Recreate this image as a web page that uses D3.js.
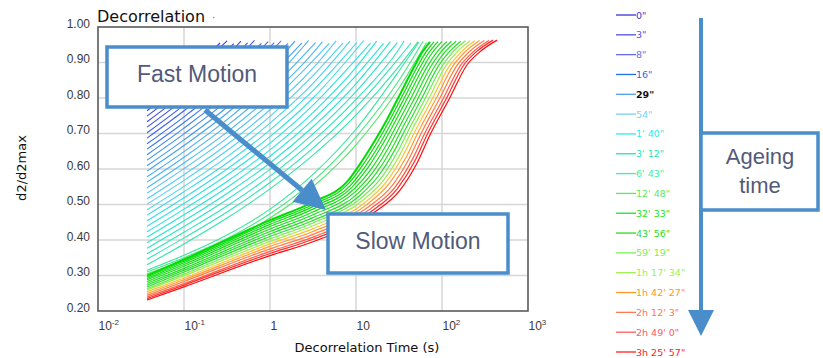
<!DOCTYPE html>
<html>
<head>
<meta charset="utf-8">
<script src="https://cdn.jsdelivr.net/npm/d3@7"></script>
<style>
  body { margin: 0; background: #fff; }
</style>
</head>
<body>
<div class="chart"></div>
<script>
// Each point is [log10(decorrelation time in s), d2/d2max]

// early ageing: curves spread out over the whole frame
const spreadCurves = [
    [[-1.43, .780], [-1, .864], [-0.58, .955]],
    [[-1.43, .764], [-1, .847], [-0.50, .961]],
    [[-1.43, .749], [-1, .830], [-0.42, .953]],
    [[-1.43, .733], [-1, .813], [-0.5, .919], [-0.34, .960]],
    [[-1.43, .718], [-1, .797], [-0.5, .900], [-0.26, .955]],
    [[-1.43, .702], [-1, .780], [-0.5, .882], [-0.18, .962]],
    [[-1.43, .687], [-1, .764], [-0.5, .863], [-0.10, .954]],
    [[-1.43, .671], [-1, .747], [-0.5, .845], [-0.02, .959]],
    [[-1.43, .656], [-1, .731], [-0.5, .828], [0.05, .956]],
    [[-1.43, .640], [-1, .715], [-0.5, .810], [0.13, .961]],
    [[-1.43, .625], [-1, .699], [-0.5, .792], [0, .902], [0.21, .954]],
    [[-1.43, .609], [-1, .682], [-0.5, .774], [0, .882], [0.29, .960]],
    [[-1.43, .594], [-1, .666], [-0.5, .757], [0, .863], [0.37, .955]],
    [[-1.43, .578], [-1, .649], [-0.5, .739], [0, .843], [0.45, .962]],
    [[-1.43, .563], [-1, .633], [-0.5, .722], [0, .824], [0.53, .956]],
    [[-1.43, .547], [-1, .617], [-0.5, .704], [0, .805], [0.5, .927], [0.61, .959]],
    [[-1.43, .532], [-1, .601], [-0.5, .687], [0, .786], [0.5, .905], [0.69, .954]],
    [[-1.43, .516], [-1, .584], [-0.5, .669], [0, .767], [0.5, .884], [0.77, .961]],
    [[-1.43, .501], [-1, .568], [-0.5, .652], [0, .748], [0.5, .863], [0.85, .955]],
    [[-1.43, .485], [-1, .551], [-0.5, .634], [0, .729], [0.5, .841], [0.93, .960]],
    [[-1.43, .470], [-1, .536], [-0.5, .617], [0, .710], [0.5, .821], [1.01, .956]],
    [[-1.43, .454], [-1, .519], [-0.5, .600], [0, .691], [0.5, .800], [1.09, .962]],
    [[-1.43, .439], [-1, .503], [-0.5, .583], [0, .673], [0.5, .780], [1, .909], [1.17, .955]],
    [[-1.43, .423], [-1, .487], [-0.5, .565], [0, .654], [0.5, .759], [1, .886], [1.24, .960]],
    [[-1.43, .408], [-1, .471], [-0.5, .548], [0, .636], [0.5, .739], [1, .863], [1.32, .954]],
    [[-1.43, .392], [-1, .454], [-0.5, .531], [0, .617], [0.5, .719], [1, .840], [1.40, .959]],
    [[-1.43, .377], [-1, .438], [-0.5, .514], [0, .599], [0.5, .699], [1, .818], [1.48, .956]],
    [[-1.43, .361], [-1, .422], [-0.5, .496], [0, .580], [0.5, .679], [1, .796], [1.5, .938], [1.56, .961]],
    [[-1.43, .346], [-1, .406], [-0.5, .479], [0, .562], [0.5, .659], [1, .774], [1.5, .913], [1.64, .955]],
    [[-1.43, .330], [-1, .389], [-0.5, .462], [0, .544], [0.5, .639], [1, .752], [1.5, .889], [1.72, .958]]
];

// the few sea-green curves that bend up just before the bundle
const transitionCurves = [
    [[-1.43, .315], [-1, .357], [-0.5, .414], [0, .487], [0.5, .585], [1, .712], [1.5, .876], [1.73, .957]],
    [[-1.43, .310], [-1, .350], [-0.5, .404], [0, .474], [0.5, .566], [1, .690], [1.5, .850], [1.78, .960]],
    [[-1.43, .305], [-1, .343], [-0.5, .395], [0, .462], [0.5, .550], [1, .668], [1.5, .828], [1.82, .956]]
];

// late ageing: curves packed in the green -> red bundle
const bundleCurves = [
    [[-1.43, .300], [-1, .345], [0, .456], [0.5, .507], [0.900, .565], [1.050, .615], [1.220, .680], [1.340, .730], [1.490, .800], [1.670, .885], [1.760, .925], [1.860, .958]],
    [[-1.43, .296], [-1, .340], [0, .450], [0.5, .500], [0.918, .560], [1.078, .611], [1.249, .676], [1.371, .728], [1.526, .800], [1.707, .885], [1.801, .925], [1.907, .958]],
    [[-1.43, .292], [-1, .336], [0, .444], [0.5, .494], [0.936, .554], [1.105, .606], [1.279, .672], [1.402, .726], [1.562, .800], [1.744, .886], [1.842, .926], [1.954, .959]],
    [[-1.43, .288], [-1, .331], [0, .438], [0.5, .487], [0.954, .549], [1.133, .602], [1.308, .669], [1.434, .724], [1.598, .800], [1.782, .886], [1.882, .926], [2.000, .959]],
    [[-1.43, .283], [-1, .326], [0, .431], [0.5, .479], [0.975, .543], [1.165, .596], [1.343, .664], [1.470, .722], [1.640, .800], [1.825, .887], [1.930, .926], [2.055, .959]],
    [[-1.43, .278], [-1, .320], [0, .424], [0.5, .471], [0.996, .537], [1.197, .591], [1.377, .660], [1.506, .719], [1.682, .800], [1.868, .888], [1.978, .927], [2.110, .960]],
    [[-1.43, .273], [-1, .315], [0, .417], [0.5, .463], [1.017, .530], [1.229, .586], [1.411, .655], [1.543, .717], [1.724, .800], [1.912, .888], [2.025, .927], [2.164, .960]],
    [[-1.43, .268], [-1, .310], [0, .410], [0.5, .455], [1.038, .524], [1.262, .581], [1.445, .651], [1.579, .714], [1.766, .800], [1.955, .889], [2.073, .927], [2.219, .960]],
    [[-1.43, .263], [-1, .304], [0, .403], [0.5, .448], [1.059, .518], [1.294, .575], [1.480, .647], [1.616, .712], [1.808, .800], [1.999, .889], [2.120, .928], [2.273, .961]],
    [[-1.43, .259], [-1, .299], [0, .396], [0.5, .440], [1.080, .512], [1.326, .570], [1.514, .642], [1.652, .710], [1.850, .800], [2.042, .890], [2.168, .928], [2.328, .961]],
    [[-1.43, .254], [-1, .293], [0, .389], [0.5, .432], [1.101, .505], [1.358, .565], [1.548, .638], [1.688, .707], [1.892, .800], [2.085, .890], [2.216, .928], [2.383, .961]],
    [[-1.43, .249], [-1, .288], [0, .382], [0.5, .424], [1.122, .499], [1.390, .560], [1.583, .633], [1.725, .705], [1.934, .800], [2.129, .891], [2.263, .929], [2.437, .962]],
    [[-1.43, .244], [-1, .283], [0, .375], [0.5, .416], [1.143, .493], [1.423, .554], [1.617, .629], [1.761, .702], [1.976, .800], [2.172, .891], [2.311, .929], [2.492, .962]],
    [[-1.43, .239], [-1, .277], [0, .368], [0.5, .408], [1.164, .487], [1.455, .549], [1.651, .625], [1.798, .700], [2.018, .800], [2.216, .892], [2.358, .929], [2.546, .962]],
    [[-1.43, .235], [-1, .273], [0, .362], [0.5, .402], [1.182, .481], [1.482, .545], [1.681, .621], [1.829, .698], [2.054, .800], [2.253, .893], [2.399, .930], [2.593, .963]],
    [[-1.43, .231], [-1, .268], [0, .356], [0.5, .395], [1.200, .476], [1.510, .540], [1.710, .617], [1.860, .696], [2.090, .800], [2.290, .893], [2.440, .930], [2.640, .963]]
];

const ageingLabels = ['0"', '3"', '8"', '16"', '29"', '54"', "1' 40\"", "3' 12\"", "6' 43\"",
    "12' 48\"", "32' 33\"", "43' 56\"", "59' 19\"", "1h 17' 34\"", "1h 42' 27\"",
    "2h 12' 3\"", "2h 49' 0\"", "3h 25' 57\""];
const highlightedAge = '29"';

const xTickValues = [0.01, 0.1, 1, 10, 100, 1000];
const xTickLabels = [["10", "-2"], ["10", "-1"], ["1", ""], ["10", ""], ["10", "2"], ["10", "3"]];
const yTickValues = [0.2, 0.3, 0.4, 0.5, 0.6, 0.7, 0.8, 0.9, 1.0];

// colours
const legendColors = ["#3c32d2", "#5050e6", "#6a6ae6", "#1e6ee6", "#50a0e6", "#78d2f5", "#28ecec",
    "#19e6b9", "#3cf0a0", "#5de85d", "#19e619", "#28dc28", "#78f050", "#a0f050", "#ff9628",
    "#ff7850", "#ff5a5a", "#ff1e1e"];
const spreadPalette = ["#4433dd", "#3a5ff0", "#3fa0f0", "#55cdf5", "#22e6e0", "#30e4a8"];
const transitionPalette = ["#34e69a", "#44e682", "#55e66a"];
const bundlePalette = ["#00dd00", "#2ade2a", "#70ea50", "#a0ee48", "#ffbf35", "#ff9a30", "#ff7a40", "#ff5a45", "#ff2a2a", "#ff0a0a"];
const accent = "#4a8dcb";
const noteText = "#525a78";

const width = 823;
const height = 358;
const margin = { top: 27, right: 295, bottom: 47, left: 98 };

const x = d3.scaleLog()
    .domain([0.01, 1000])
    .range([margin.left, width - margin.right]);
const y = d3.scaleLinear()
    .domain([0.2, 1.0])
    .range([height - margin.bottom, margin.top]);

const svg = d3.select(".chart")
    .append("svg")
    .attr("width", width)
    .attr("height", height)
    .style("font-family", "'Liberation Sans', Arial, sans-serif");

// grid
svg.append("g")
    .selectAll("line")
    .data(xTickValues.slice(1, -1))
    .enter()
    .append("line")
    .attr("x1", d => x(d)).attr("x2", d => x(d))
    .attr("y1", y(1)).attr("y2", y(0.2))
    .attr("stroke", "#d6d6d6")
    .attr("stroke-width", 1.5);

svg.append("g")
    .selectAll("line")
    .data(yTickValues.slice(1, -1))
    .enter()
    .append("line")
    .attr("x1", x(0.01)).attr("x2", x(1000))
    .attr("y1", d => y(d)).attr("y2", d => y(d))
    .attr("stroke", "#d6d6d6")
    .attr("stroke-width", 1.5);

// curves
const lineGenerator = d3.line()
    .x(p => x(Math.pow(10, p[0])))
    .y(p => y(p[1]))
    .curve(d3.curveMonotoneX);

const spreadColor = d3.scaleLinear()
    .domain(spreadPalette.map((c, i) => i / (spreadPalette.length - 1) * (spreadCurves.length - 1)))
    .range(spreadPalette)
    .interpolate(d3.interpolateRgb);

const bundleColor = d3.scaleLinear()
    .domain([0, 7, 8, 9, 10, 11, 12, 13, 14, 15])
    .range(bundlePalette)
    .interpolate(d3.interpolateRgb);

function drawCurves(curves, color, strokeWidth) {
    svg.append("g")
        .selectAll("path")
        .data(curves)
        .enter()
        .append("path")
        .attr("d", d => lineGenerator(d))
        .attr("fill", "none")
        .attr("stroke", color)
        .attr("stroke-width", strokeWidth);
}

drawCurves(spreadCurves, (d, i) => spreadColor(i), 1.1);
drawCurves(transitionCurves, (d, i) => transitionPalette[i], 1.1);
drawCurves(bundleCurves, (d, i) => bundleColor(i), (d, i) => i === 0 ? 2 : 1.2);

// frame
svg.append("rect")
    .attr("x", x(0.01))
    .attr("y", y(1))
    .attr("width", x(1000) - x(0.01))
    .attr("height", y(0.2) - y(1))
    .attr("fill", "none")
    .attr("stroke", "#5a5a5a")
    .attr("stroke-width", 1.6);

// axes
const yAxis = svg.append("g")
    .attr("transform", `translate(${margin.left},0)`)
    .call(d3.axisLeft(y).tickValues(yTickValues).tickFormat(d3.format(".2f")).tickSize(0).tickPadding(8));
yAxis.select(".domain").remove();
yAxis.selectAll("text")
    .attr("dy", 0)
    .attr("fill", "#3a3a3a")
    .style("font-size", "12px")
    .style("font-family", "'Liberation Sans', Arial, sans-serif");

const xAxis = svg.append("g")
    .attr("transform", `translate(0,${height - margin.bottom})`)
    .call(d3.axisBottom(x).tickValues(xTickValues).tickSize(0));
xAxis.select(".domain").remove();
xAxis.selectAll("text")
    .attr("y", 19)
    .attr("dy", 0)
    .attr("text-anchor", "start")
    .attr("fill", "#3a3a3a")
    .style("font-size", "12px")
    .style("font-family", "'Liberation Sans', Arial, sans-serif")
    .each(function(d, i) {
        const t = d3.select(this).text("");
        t.append("tspan").text(xTickLabels[i][0]);
        if (xTickLabels[i][1]) {
            t.append("tspan")
                .attr("dy", -5)
                .style("font-size", "8px")
                .text(xTickLabels[i][1]);
        }
    });

// titles
svg.append("text")
    .attr("x", 97)
    .attr("y", 22)
    .style("font-family", "'DejaVu Sans', sans-serif")
    .style("font-size", "16px")
    .attr("fill", "#111")
    .text("Decorrelation");
svg.append("text")
    .attr("x", 212)
    .attr("y", 21)
    .style("font-size", "10px")
    .attr("fill", "#666")
    .text("·");

svg.append("text")
    .attr("x", 367)
    .attr("y", 352)
    .attr("text-anchor", "middle")
    .style("font-family", "'DejaVu Sans', sans-serif")
    .style("font-size", "13px")
    .attr("fill", "#111")
    .text("Decorrelation Time (s)");

svg.append("text")
    .attr("transform", "translate(26,168) rotate(-90)")
    .attr("text-anchor", "middle")
    .style("font-family", "'DejaVu Sans', sans-serif")
    .style("font-size", "13px")
    .attr("fill", "#111")
    .text("d2/d2max");

// Fast -> Slow arrow
const arrowFrom = [205, 110];
const arrowTip = [326, 210];
const dx = arrowTip[0] - arrowFrom[0];
const dy = arrowTip[1] - arrowFrom[1];
const len = Math.hypot(dx, dy);
const ux = dx / len, uy = dy / len;
const headLen = 31, headHalf = 15;
const base = [arrowTip[0] - headLen * ux, arrowTip[1] - headLen * uy];

svg.append("line")
    .attr("x1", arrowFrom[0]).attr("y1", arrowFrom[1])
    .attr("x2", base[0]).attr("y2", base[1])
    .attr("stroke", accent)
    .attr("stroke-width", 5);
svg.append("path")
    .attr("d", `M${arrowTip[0]},${arrowTip[1]}L${base[0] - headHalf * uy},${base[1] + headHalf * ux}L${base[0] + headHalf * uy},${base[1] - headHalf * ux}Z`)
    .attr("fill", accent);

function noteBox(x0, y0, w, h, lines, cx, firstBaseline, lineGap, size) {
    svg.append("rect")
        .attr("x", x0).attr("y", y0)
        .attr("width", w).attr("height", h)
        .attr("fill", "#fff")
        .attr("stroke", accent)
        .attr("stroke-width", 3.5);
    const t = svg.append("text")
        .attr("text-anchor", "middle")
        .attr("fill", noteText)
        .style("font-size", size + "px");
    lines.forEach((line, i) => {
        t.append("tspan")
            .attr("x", cx)
            .attr("y", firstBaseline + i * lineGap)
            .text(line);
    });
}

noteBox(107, 47, 180, 60, ["Fast Motion"], 197, 82, 0, 23);
noteBox(328, 214, 180, 59, ["Slow Motion"], 418, 249, 0, 23);

// ageing arrow
svg.append("line")
    .attr("x1", 701).attr("y1", 18)
    .attr("x2", 701).attr("y2", 312)
    .attr("stroke", accent)
    .attr("stroke-width", 4);
svg.append("path")
    .attr("d", "M688,310L714,310L701,336Z")
    .attr("fill", accent);
noteBox(701, 133, 117, 77, ["Ageing", "time"], 760, 164, 29, 22);

// legend
const legendY = d3.scalePoint()
    .domain(ageingLabels)
    .range([15, 352]);

const legend = svg.append("g")
    .selectAll("g")
    .data(ageingLabels)
    .enter()
    .append("g")
    .attr("transform", d => `translate(616,${legendY(d)})`);

legend.append("line")
    .attr("x1", 0).attr("x2", 20)
    .attr("stroke", (d, i) => legendColors[i])
    .attr("stroke-width", 1.3);

legend.append("text")
    .attr("x", 20)
    .attr("y", 3.5)
    .style("font-family", "'DejaVu Sans', sans-serif")
    .style("font-size", "9.5px")
    .style("font-weight", d => d === highlightedAge ? "bold" : "normal")
    .attr("fill", (d, i) => d === highlightedAge ? "#111" : legendColors[i])
    .text(d => d);
</script>
</body>
</html>
